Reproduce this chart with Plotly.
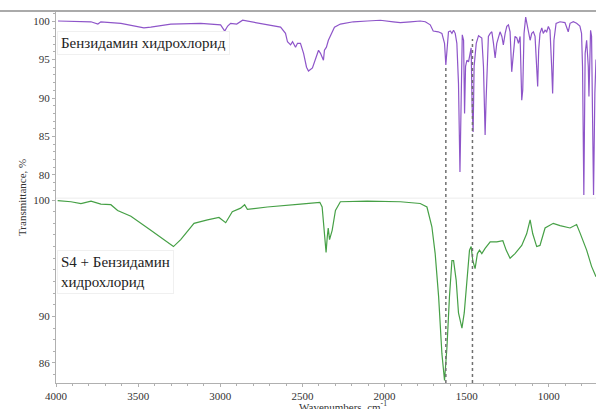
import plotly.graph_objects as go

# Benzydamine hydrochloride (top spectrum)
wn_top = [3988, 3878, 3787, 3745, 3727, 3605, 3514, 3465, 3423, 3301, 3119, 3040, 2998, 2973, 2955,
          2937, 2900, 2864, 2815, 2755, 2694, 2633, 2603, 2591, 2572, 2560, 2542, 2530, 2512, 2493,
          2475, 2463, 2439, 2421, 2402, 2390, 2372, 2366, 2354, 2342, 2317, 2305, 2269, 2190, 2105,
          2026, 1947, 1904, 1843, 1783, 1752, 1722, 1704, 1673, 1651, 1635, 1627, 1620, 1611, 1600,
          1590, 1580, 1570, 1560, 1550, 1541, 1533, 1527, 1519, 1513, 1507, 1499, 1489, 1479, 1473,
          1467, 1461, 1455, 1442, 1428, 1418, 1408, 1398, 1388, 1382, 1374, 1368, 1357, 1347, 1337,
          1327, 1317, 1307, 1297, 1286, 1277, 1266, 1256, 1246, 1236, 1226, 1216, 1206, 1195, 1185,
          1175, 1165, 1159, 1151, 1141, 1131, 1125, 1114, 1104, 1094, 1084, 1074, 1068, 1062, 1054,
          1043, 1034, 1023, 1013, 1003, 993, 983, 977, 969, 956, 932, 902, 882, 871, 851,
          831, 811, 801, 795, 787, 779, 770, 760, 756, 746, 740, 734, 728, 720, 713]
t_top = [100.0, 99.9, 99.9, 99.6, 99.9, 99.7, 99.35, 99.1, 99.2, 99.6, 99.7, 99.6, 99.5, 98.7, 99.35,
         99.7, 99.6, 100.1, 99.9, 99.7, 99.5, 99.2, 98.4, 97.3, 96.9, 97.3, 96.6, 97.1, 97.1, 95.8,
         94.0, 93.5, 93.9, 94.9, 96.2, 95.8, 94.9, 96.2, 96.6, 97.5, 98.6, 99.2, 99.6, 99.9, 100.0,
         100.1, 99.9, 99.8, 99.9, 100.0, 99.9, 99.5, 98.7, 98.6, 98.4, 97.1, 94.3, 96.7, 98.6, 98.7,
         98.4, 98.8, 98.4, 97.1, 91.9, 80.4, 88.4, 98.2, 97.5, 88.0, 94.1, 94.9, 94.7, 96.2, 96.5,
         88.9, 85.6, 94.1, 97.1, 98.1, 98.0, 97.8, 94.1, 85.2, 89.7, 94.1, 98.0, 98.4, 98.6, 97.1,
         95.2, 97.1, 98.0, 98.6, 98.0, 96.9, 98.4, 99.3, 99.5, 98.6, 93.4, 96.2, 98.0, 97.8, 97.1,
         98.0, 89.7, 91.0, 98.4, 100.5, 99.3, 98.4, 97.5, 98.4, 98.6, 98.0, 94.1, 91.5, 96.2, 98.4,
         99.1, 98.4, 98.8, 98.6, 99.3, 98.8, 94.1, 90.6, 97.5, 99.7, 99.9, 99.8, 98.6, 99.7, 99.9,
         99.7, 99.35, 98.4, 94.1, 77.4, 95.8, 97.5, 94.1, 90.2, 98.8, 98.0, 87.6, 77.4, 90.6, 95.0]

# S4 + Benzydamine hydrochloride (bottom spectrum)
wn_bot = [3990, 3909, 3848, 3787, 3727, 3666, 3625, 3544, 3423, 3342, 3285, 3241, 3160, 3078, 3008,
          2967, 2927, 2876, 2852, 2835, 2714, 2512, 2394, 2380, 2366, 2356, 2349, 2343, 2335, 2319,
          2299, 2269, 2106, 1904, 1783, 1742, 1712, 1692, 1671, 1651, 1635, 1620, 1605, 1590, 1580,
          1564, 1550, 1529, 1515, 1499, 1483, 1473, 1463, 1449, 1435, 1422, 1408, 1388, 1357, 1317,
          1280, 1260, 1236, 1206, 1165, 1135, 1114, 1098, 1074, 1054, 1023, 973, 932, 871, 831,
          811, 770, 740, 713]
t_bot = [99.94, 99.85, 99.7, 99.9, 99.65, 99.6, 99.1, 98.6, 97.4, 96.6, 96.0, 96.6, 98.0, 98.3, 98.5,
         98.05, 99.0, 99.3, 99.6, 99.2, 99.4, 99.65, 99.8, 99.4, 97.4, 95.5, 96.8, 97.6, 96.6, 97.4,
         99.1, 99.85, 99.9, 99.85, 99.7, 99.4, 97.7, 95.4, 91.7, 86.8, 84.5, 87.4, 91.7, 94.8, 94.8,
         93.1, 90.3, 89.0, 90.3, 93.1, 95.7, 96.0, 94.8, 94.1, 95.4, 95.7, 95.4, 95.85, 96.4, 96.4,
         96.5, 95.7, 95.0, 95.4, 96.1, 97.1, 98.3, 97.1, 96.0, 96.1, 97.6, 98.0, 97.8, 97.6, 97.9,
         97.2, 95.7, 94.3, 93.4]

x_ticks = [4000, 3500, 3000, 2500, 2000, 1500, 1000]
top_ticks = [80, 85, 90, 95, 100]
bot_ticks = [86, 90, 100]
marker_wn = [1627, 1465]
marker_top = [0.855, 0.925]

label_top = "Бензидамин хидрохлорид"
label_bot = "S4 + Бензидамин<br>хидрохлорид"

W, H = 596, 409
ML, MR, MT, MB = 56, 0, 11, 26
pw = W - ML - MR
ph = H - MT - MB

font_tick = dict(family="Liberation Serif, Times New Roman, serif", size=11, color="#333333")
axcol = "#b0b0b0"

fig = go.Figure()
fig.add_trace(go.Scatter(x=wn_top, y=t_top, mode="lines", yaxis="y",
                         line=dict(color="#8e55c9", width=1.2), showlegend=False))
fig.add_trace(go.Scatter(x=wn_bot, y=t_bot, mode="lines", yaxis="y2",
                         line=dict(color="#46a046", width=1.2), showlegend=False))

common_y = dict(showline=True, linecolor=axcol, linewidth=1, ticks="outside", ticklen=3,
                tickcolor=axcol, showgrid=False, zeroline=False, tickfont=font_tick,
                minor=dict(ticks="outside", ticklen=2, dtick=1, tickcolor=axcol, showgrid=False),
                anchor="x")

fig.update_layout(
    width=W, height=H,
    margin=dict(l=ML, r=MR, t=MT, b=MB),
    paper_bgcolor="white", plot_bgcolor="white",
    xaxis=dict(range=[4000, 713], tickvals=x_ticks, showline=True, linecolor=axcol, linewidth=1,
               ticks="outside", ticklen=3, tickcolor=axcol, showgrid=False, zeroline=False,
               tickfont=font_tick, anchor="y2",
               minor=dict(ticks="outside", ticklen=2, dtick=100, tickcolor=axcol, showgrid=False)),
    yaxis=dict(domain=[0.5, 1], range=[77.14, 101.3], tickvals=top_ticks, **common_y),
    yaxis2=dict(domain=[0, 0.5], range=[84.28, 100.26], tickvals=bot_ticks, **common_y),
)

# top border line across the page
fig.add_shape(type="line", xref="paper", yref="paper", x0=-ML / pw, x1=1, y0=1, y1=1,
              line=dict(color="#aaaaaa", width=2))
# panel separator
fig.add_shape(type="line", xref="paper", yref="paper", x0=0, x1=1, y0=0.497, y1=0.497,
              line=dict(color="#ececec", width=1))
# dotted marker lines
for wn, ytop in zip(marker_wn, marker_top):
    fig.add_shape(type="line", xref="x", yref="paper", x0=wn, x1=wn, y0=0, y1=ytop,
                  line=dict(color="#707070", width=1.5, dash="dot"))

font_lab = dict(family="Liberation Serif, Times New Roman, serif", size=15, color="#222222")
fig.add_annotation(text=label_top, xref="paper", yref="paper", x=1 / pw, y=(H - MB - 31) / ph,
                   xanchor="left", yanchor="top", showarrow=False, align="left", font=font_lab,
                   bgcolor="white", bordercolor="#f0f0f0", borderwidth=1, borderpad=3)
fig.add_annotation(text=label_bot, xref="paper", yref="paper", x=1 / pw, y=(H - MB - 250) / ph,
                   xanchor="left", yanchor="top", showarrow=False, align="left", font=font_lab,
                   bgcolor="white", bordercolor="#f0f0f0", borderwidth=1, borderpad=3)

# axis titles
fig.add_annotation(text="Transmittance, %", xref="paper", yref="paper",
                   x=(22 - ML) / pw, y=(H - MB - 198) / ph, textangle=-90, showarrow=False,
                   xanchor="center", yanchor="middle",
                   font=dict(family="Liberation Serif, Times New Roman, serif", size=11, color="#333333"))
fig.add_annotation(text="Wavenumbers, cm<sup>-1</sup>", xref="paper", yref="paper",
                   x=(343 - ML) / pw, y=(H - MB - 406) / ph, showarrow=False,
                   xanchor="center", yanchor="middle",
                   font=dict(family="Liberation Serif, Times New Roman, serif", size=11, color="#333333"))

fig.write_html("out.html")
